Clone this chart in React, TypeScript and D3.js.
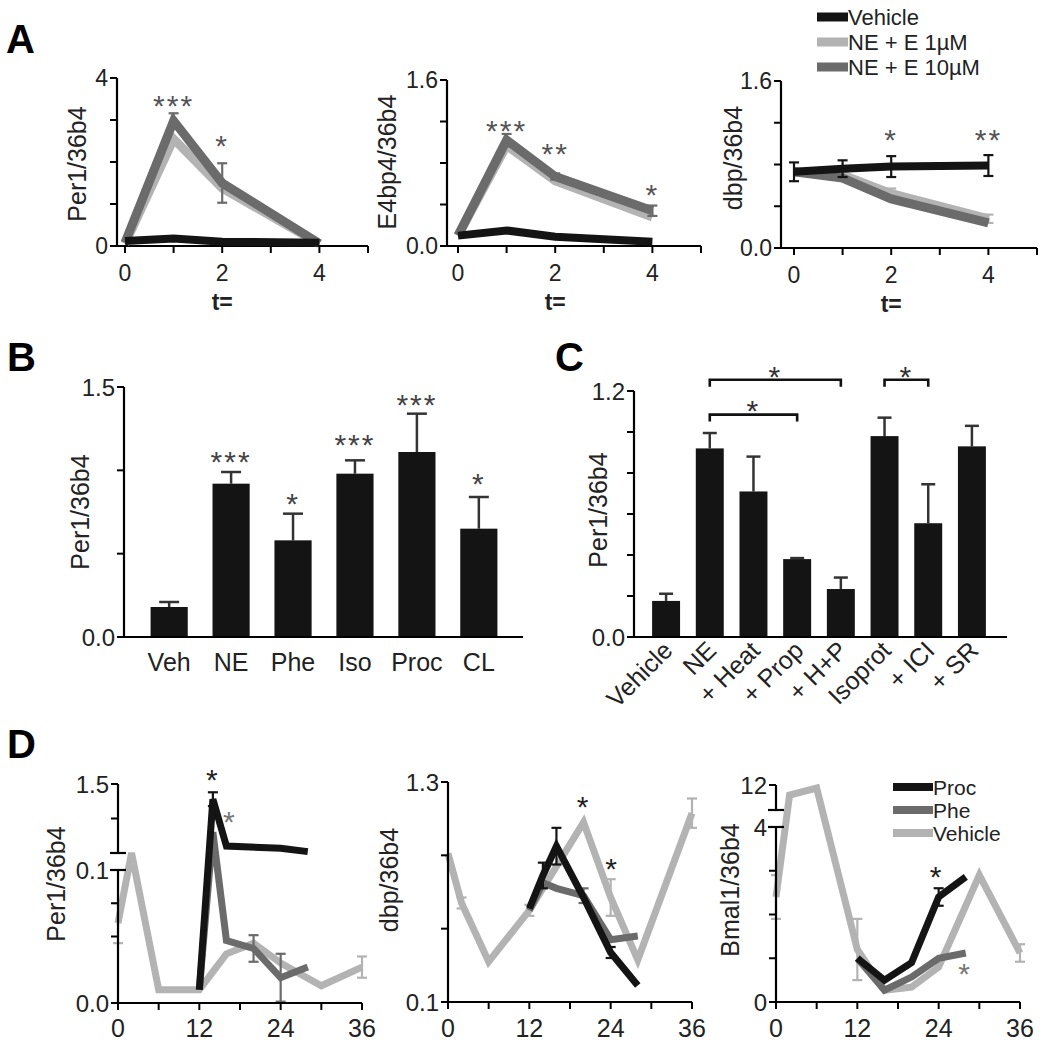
import React from 'react';
import * as d3 from 'd3';

const FONT = '"Liberation Sans", Arial, Helvetica, sans-serif';
const C_BLACK = '#141414';
const C_DARK = '#6b6b6b';
const C_LIGHT = '#b3b3b3';

// ---------------- Panel A ----------------
const aTimes = [0, 1, 2, 4];
const aTimeTicks = [0, 1, 2, 3, 4, 5];
const aTimeLabels = [0, 2, 4];
const aLegend = ['Vehicle', 'NE + E 1µM', 'NE + E 10µM'];

const per1Vehicle = [0.12, 0.18, 0.1, 0.08];
const per1E1 = [0.05, 2.55, 1.38, 0.05];
const per1E10 = [0.08, 2.98, 1.5, 0.06];
const per1E10Err = [0, 0.18, 0.47, 0];
const per1Ticks = [0, 1, 2, 3, 4];
const per1Labels = [0, 4];
const per1Stars = ['', '***', '*', ''];
const per1StarY = [0, 3.5, 2.55, 0];

const e4Vehicle = [0.1, 0.15, 0.09, 0.04];
const e4E1 = [0.1, 0.97, 0.63, 0.28];
const e4E10 = [0.1, 1.02, 0.67, 0.34];
const e4E10Err = [0, 0.06, 0.03, 0.05];
const e4Ticks = [0, 0.4, 0.8, 1.2, 1.6];
const e4Labels = [0, 1.6];
const e4Stars = ['', '***', '**', '*'];
const e4StarY = [0, 1.17, 0.95, 0.56];

const dbpAVehicle = [0.73, 0.76, 0.78, 0.79];
const dbpAVehicleErr = [0.09, 0.08, 0.1, 0.1];
const dbpAE1 = [0.73, 0.7, 0.52, 0.28];
const dbpAE1Err = [0, 0, 0.05, 0.04];
const dbpAE10 = [0.73, 0.67, 0.47, 0.24];
const dbpATicks = [0, 0.4, 0.8, 1.2, 1.6];
const dbpALabels = [0, 1.6];
const dbpAStars = ['', '', '*', '**'];
const dbpAStarY = [0, 0, 1.1, 1.1];

// ---------------- Panel B ----------------
const bCategories = ['Veh', 'NE', 'Phe', 'Iso', 'Proc', 'CL'];
const bValues = [0.18, 0.92, 0.58, 0.98, 1.11, 0.65];
const bErrors = [0.03, 0.07, 0.16, 0.08, 0.23, 0.19];
const bStars = ['', '***', '*', '***', '***', '*'];
const bStarY = [0, 1.09, 0.84, 1.19, 1.43, 0.96];
const bTicks = [0, 0.5, 1.0, 1.5];
const bLabels = [0, 1.5];

// ---------------- Panel C ----------------
const cCategories = ['Vehicle', 'NE', '+ Heat', '+ Prop', '+ H+P', 'Isoprot', '+ ICI', '+ SR'];
const cValues = [0.176, 0.92, 0.71, 0.38, 0.234, 0.98, 0.555, 0.93];
const cErrors = [0.035, 0.075, 0.17, 0.005, 0.056, 0.09, 0.19, 0.1];
const cTicks = [0, 0.2, 0.4, 0.6, 0.8, 1.0, 1.2];
const cLabels = [0, 1.2];
const cBracketFrom = ['NE', 'NE', 'Isoprot'];
const cBracketTo = ['+ H+P', '+ Prop', '+ ICI'];
const cBracketLevel = [1.255, 1.085, 1.255];
const cBracketStar = ['*', '*', '*'];

// ---------------- Panel D ----------------
const dHourTicks = [0, 6, 12, 18, 24, 30, 36];
const dHourLabels = [0, 12, 24, 36];
const dLegend = ['Proc', 'Phe', 'Vehicle'];

const dPer1VehHours = [0, 2, 6, 12, 16, 20, 24, 30, 36];
const dPer1Veh = [0.06, 0.5, 0.01, 0.01, 0.037, 0.045, 0.03, 0.013, 0.027];
const dPer1VehErr = [0.015, 0, 0, 0, 0, 0, 0, 0, 0.008];
const dPer1PheHours = [12, 14, 16, 20, 24, 28];
const dPer1Phe = [0.01, 0.8, 0.047, 0.041, 0.019, 0.027];
const dPer1PheErr = [0, 0, 0, 0.01, 0.018, 0];
const dPer1ProcHours = [12, 14, 16, 24, 28];
const dPer1Proc = [0.01, 1.28, 0.6, 0.57, 0.52];
const dPer1ProcErr = [0, 0.1, 0, 0, 0];
const dPer1Ticks = [0, 0.05, 0.075, 0.1, 1.0, 1.5];
const dPer1Breaks = [0.1, 0.5];
const dPer1Labels = [0, 0.1, 1.5];
const dPer1StarHours = [14, 16.5];
const dPer1StarY = [1.66, 1.05];

const dDbpVehHours = [0, 2, 6, 12, 16, 20, 24, 28, 36];
const dDbpVeh = [0.91, 0.64, 0.32, 0.6, 0.84, 1.08, 0.67, 0.33, 1.13];
const dDbpVehErr = [0, 0.03, 0, 0.03, 0, 0, 0.1, 0, 0.08];
const dDbpPheHours = [12, 14, 16, 20, 24, 28];
const dDbpPhe = [0.6, 0.75, 0.72, 0.68, 0.44, 0.46];
const dDbpPheErr = [0, 0, 0, 0.04, 0, 0];
const dDbpProcHours = [12, 14, 16, 20, 24, 28];
const dDbpProc = [0.61, 0.79, 0.95, 0.67, 0.37, 0.19];
const dDbpProcErr = [0, 0.07, 0.1, 0, 0.03, 0];
const dDbpTicks = [0.1, 0.5, 0.9, 1.3];
const dDbpLabels = [0.1, 1.3];
const dDbpStarHours = [20, 24.2];
const dDbpStarY = [1.2, 0.86];

const dBmalVehHours = [0, 2, 6, 12, 16, 20, 24, 30, 36];
const dBmalVeh = [2.4, 10.4, 11.5, 1.2, 0.27, 0.34, 0.8, 2.9, 1.12];
const dBmalVehErr = [0.5, 0, 0, 0.7, 0, 0, 0, 0, 0.2];
const dBmalPheHours = [12, 16, 20, 24, 28];
const dBmalPhe = [1.0, 0.27, 0.57, 1.0, 1.12];
const dBmalProcHours = [12, 16, 20, 24, 28];
const dBmalProc = [1.0, 0.5, 0.9, 2.4, 2.86];
const dBmalProcErr = [0, 0, 0, 0.2, 0];
const dBmalTicks = [0, 1, 2, 3, 12];
const dBmalBreaks = [4, 8];
const dBmalLabels = [0, 4, 12];
const dBmalStarHours = [23.7, 27.9];
const dBmalStarY = [3.02, 0.8];

// ---------------- helpers ----------------
type Scale = (v: number) => number;
type LineSeries = { xs: number[]; ys: number[]; errs?: number[]; color: string; width: number };

function Lines({ x, y, series, capW = 10 }: { x: Scale; y: Scale; series: LineSeries[]; capW?: number }) {
  const line = d3.line<[number, number]>().x(d => x(d[0])).y(d => y(d[1]));
  return (
    <g>
      {series.map((s, i) => (
        <g key={i}>
          <path
            d={line(s.xs.map((xv, j) => [xv, s.ys[j]] as [number, number])) || ''}
            fill="none"
            stroke={s.color}
            strokeWidth={s.width}
            strokeLinejoin="miter"
            strokeMiterlimit={3}
          />
          {s.errs
            ? s.ys.map((v, j) => {
                const e = s.errs![j];
                if (!e) return null;
                const cx = x(s.xs[j]);
                return (
                  <g key={j} stroke={s.color} strokeWidth={2.2}>
                    <line x1={cx} x2={cx} y1={y(v - e)} y2={y(v + e)} />
                    <line x1={cx - capW / 2} x2={cx + capW / 2} y1={y(v + e)} y2={y(v + e)} />
                    <line x1={cx - capW / 2} x2={cx + capW / 2} y1={y(v - e)} y2={y(v - e)} />
                  </g>
                );
              })
            : null}
        </g>
      ))}
    </g>
  );
}

function YAxis({
  x0, y, segments, ticks, breaks = [], labels, fmt, fs = 23,
}: {
  x0: number; y: Scale; segments: [number, number][]; ticks: number[]; breaks?: number[];
  labels: number[]; fmt: (v: number) => string; fs?: number;
}) {
  return (
    <g>
      {segments.map(([a, b], i) => (
        <line key={'s' + i} x1={x0} x2={x0} y1={y(a)} y2={y(b)} stroke="#000" strokeWidth={2.2} />
      ))}
      {ticks.map((v, i) => (
        <line key={'t' + i} x1={x0 - 7} x2={x0} y1={y(v)} y2={y(v)} stroke="#000" strokeWidth={2} />
      ))}
      {breaks.map((v, i) => (
        <line key={'b' + i} x1={x0 - 8} x2={x0 + 8} y1={y(v)} y2={y(v)} stroke="#000" strokeWidth={2.2} />
      ))}
      {labels.map((v, i) => (
        <text key={'l' + i} x={x0 - 9} y={y(v)} dy="0.36em" textAnchor="end" fontSize={fs} fill="#222">
          {fmt(v)}
        </text>
      ))}
    </g>
  );
}

function XAxis({
  y0, x, from, to, ticks, labels, fs = 23, labelY,
}: {
  y0: number; x: Scale; from: number; to: number; ticks: number[]; labels: number[]; fs?: number; labelY: number;
}) {
  return (
    <g>
      <line x1={from} x2={to} y1={y0} y2={y0} stroke="#000" strokeWidth={2.2} />
      {ticks.map((v, i) => (
        <line key={'t' + i} x1={x(v)} x2={x(v)} y1={y0} y2={y0 + 7} stroke="#000" strokeWidth={2} />
      ))}
      {labels.map((v, i) => (
        <text key={'l' + i} x={x(v)} y={labelY} dy="0.36em" textAnchor="middle" fontSize={fs} fill="#222">
          {v}
        </text>
      ))}
    </g>
  );
}

function Star({ x, y, text, color, fs = 32 }: { x: number; y: number; text: string; color: string; fs?: number }) {
  if (!text) return null;
  return (
    <text x={x} y={y} dy="0.56em" textAnchor="middle" fontSize={fs} fill={color} letterSpacing={2}>
      {text}
    </text>
  );
}

function YLabel({ x, y, text, fs = 25 }: { x: number; y: number; text: string; fs?: number }) {
  return (
    <text transform={`translate(${x},${y}) rotate(-90)`} dy="0.36em" textAnchor="middle" fontSize={fs} fill="#222">
      {text}
    </text>
  );
}

const f1 = d3.format('.1f');
const f0 = (v: number) => String(v);

// ---------------- Panel A ----------------
function PanelA() {
  const step = 48.6;
  const defs = [
    { axisX: 117, x0: 125, yTop: 78, yBot: 246, max: 4, ticks: per1Ticks, labels: per1Labels, fmt: f0,
      veh: per1Vehicle, vehErr: undefined as number[] | undefined, e1: per1E1, e1Err: undefined as number[] | undefined,
      e10: per1E10, e10Err: per1E10Err as number[] | undefined, stars: per1Stars, starY: per1StarY,
      yLabel: 'Per1/36b4', lx: 77, ly: 164 },
    { axisX: 447, x0: 458, yTop: 80, yBot: 246, max: 1.6, ticks: e4Ticks, labels: e4Labels, fmt: f1,
      veh: e4Vehicle, vehErr: undefined, e1: e4E1, e1Err: undefined, e10: e4E10, e10Err: e4E10Err,
      stars: e4Stars, starY: e4StarY, yLabel: 'E4bp4/36b4', lx: 387, ly: 162 },
    { axisX: 781, x0: 794, yTop: 81, yBot: 248, max: 1.6, ticks: dbpATicks, labels: dbpALabels, fmt: f1,
      veh: dbpAVehicle, vehErr: dbpAVehicleErr, e1: dbpAE1, e1Err: dbpAE1Err, e10: dbpAE10, e10Err: undefined,
      stars: dbpAStars, starY: dbpAStarY, yLabel: 'dbp/36b4', lx: 733, ly: 158 },
  ];
  return (
    <g>
      {defs.map((p, i) => {
        const x = d3.scaleLinear().domain([0, 4]).range([p.x0, p.x0 + 4 * step]);
        const y = d3.scaleLinear().domain([0, p.max]).range([p.yBot, p.yTop]);
        const series: LineSeries[] = [
          { xs: aTimes, ys: p.e1, errs: p.e1Err, color: C_LIGHT, width: 9 },
          { xs: aTimes, ys: p.e10, errs: p.e10Err, color: C_DARK, width: 9 },
          { xs: aTimes, ys: p.veh, errs: p.vehErr, color: C_BLACK, width: 8 },
        ];
        return (
          <g key={i}>
            <YAxis x0={p.axisX} y={y} segments={[[0, p.max]]} ticks={p.ticks} labels={p.labels} fmt={p.fmt} fs={23} />
            <XAxis y0={p.yBot} x={x} from={p.axisX} to={x(5)} ticks={aTimeTicks} labels={aTimeLabels} fs={23} labelY={p.yBot + 27} />
            <Lines x={x} y={y} series={series} capW={10} />
            {p.stars.map((s, j) => (
              <Star key={j} x={x(aTimes[j])} y={y(p.starY[j])} text={s} color="#555" fs={30} />
            ))}
            <text x={x(2)} y={p.yBot + 56} dy="0.36em" textAnchor="middle" fontSize={23} fontWeight="bold" fill="#222">
              t=
            </text>
            <YLabel x={p.lx} y={p.ly} text={p.yLabel} fs={25} />
          </g>
        );
      })}
      {aLegend.map((name, i) => (
        <g key={name}>
          <line x1={817} x2={848} y1={17 + i * 25} y2={17 + i * 25} strokeWidth={9}
            stroke={[C_BLACK, C_LIGHT, C_DARK][i]} />
          <text x={848} y={17 + i * 25} dy="0.36em" fontSize={22} fill="#222">{name}</text>
        </g>
      ))}
      <text x={6} y={53} fontSize={40} fontWeight="bold" fill="#000">A</text>
    </g>
  );
}

// ---------------- Panel B ----------------
function PanelB() {
  const axisX = 124;
  const y = d3.scaleLinear().domain([0, 1.5]).range([637, 387]);
  const x = d3.scaleBand<string>().domain(bCategories).range([132, 516]).paddingInner(0.4).paddingOuter(0.3);
  return (
    <g>
      {bCategories.map((c, i) => {
        const cx = x(c)! + x.bandwidth() / 2;
        const top = y(bValues[i] + bErrors[i]);
        return (
          <g key={c}>
            <line x1={cx} x2={cx} y1={y(bValues[i])} y2={top} stroke="#333" strokeWidth={2.5} />
            <line x1={cx - 10} x2={cx + 10} y1={top} y2={top} stroke="#333" strokeWidth={2.5} />
            <rect x={x(c)} y={y(bValues[i])} width={x.bandwidth()} height={y(0) - y(bValues[i])} fill={C_BLACK} />
            <Star x={cx} y={y(bStarY[i])} text={bStars[i]} color="#444" fs={30} />
            <text x={cx} y={662} dy="0.36em" textAnchor="middle" fontSize={25} fill="#222">{c}</text>
          </g>
        );
      })}
      <YAxis x0={axisX} y={y} segments={[[0, 1.5]]} ticks={bTicks} labels={bLabels} fmt={f1} fs={24} />
      <line x1={axisX} x2={523} y1={y(0)} y2={y(0)} stroke="#000" strokeWidth={2.2} />
      <YLabel x={80} y={512} text="Per1/36b4" fs={25} />
      <text x={7} y={371} fontSize={40} fontWeight="bold" fill="#000">B</text>
    </g>
  );
}

// ---------------- Panel C ----------------
function PanelC() {
  const axisX = 634;
  const y = d3.scaleLinear().domain([0, 1.2]).range([637, 391]);
  const x = d3.scaleBand<string>().domain(cCategories).range([639, 999]).paddingInner(0.36).paddingOuter(0.3);
  const cxOf = (c: string) => x(c)! + x.bandwidth() / 2;
  return (
    <g>
      {cCategories.map((c, i) => {
        const cx = cxOf(c);
        const top = y(cValues[i] + cErrors[i]);
        return (
          <g key={c}>
            <line x1={cx} x2={cx} y1={y(cValues[i])} y2={top} stroke="#333" strokeWidth={2.5} />
            <line x1={cx - 7} x2={cx + 7} y1={top} y2={top} stroke="#333" strokeWidth={2.5} />
            <rect x={x(c)} y={y(cValues[i])} width={x.bandwidth()} height={y(0) - y(cValues[i])} fill={C_BLACK} />
            <text transform={`translate(${cx + 8},${652}) rotate(-45)`} textAnchor="end" fontSize={25} fill="#222">
              {c}
            </text>
          </g>
        );
      })}
      {cBracketFrom.map((f, i) => {
        const x1 = cxOf(f);
        const x2 = cxOf(cBracketTo[i]);
        const by = y(cBracketLevel[i]);
        return (
          <g key={i}>
            <path d={`M${x1},${by + 7}V${by}H${x2}V${by + 7}`} fill="none" stroke="#111" strokeWidth={2.6} />
            <Star x={(x1 + x2) / 2} y={by - 10} text={cBracketStar[i]} color="#333" fs={30} />
          </g>
        );
      })}
      <YAxis x0={axisX} y={y} segments={[[0, 1.2]]} ticks={cTicks} labels={cLabels} fmt={f1} fs={24} />
      <line x1={axisX} x2={1007} y1={y(0)} y2={y(0)} stroke="#000" strokeWidth={2.2} />
      <YLabel x={598} y={510} text="Per1/36b4" fs={25} />
      <text x={555} y={371} fontSize={40} fontWeight="bold" fill="#000">C</text>
    </g>
  );
}

// ---------------- Panel D ----------------
function PanelD() {
  const panels = [
    {
      axisX: 118, y: d3.scaleLinear().domain([0, 0.1, 0.5, 1.5]).range([1003, 870, 853, 784]),
      segments: [[0, 0.1], [0.5, 1.5]] as [number, number][], ticks: dPer1Ticks, breaks: dPer1Breaks,
      labels: dPer1Labels, fmt: f1, y0val: 0,
      series: [
        { xs: dPer1VehHours, ys: dPer1Veh, errs: dPer1VehErr, color: C_LIGHT, width: 7 },
        { xs: dPer1PheHours, ys: dPer1Phe, errs: dPer1PheErr, color: C_DARK, width: 7 },
        { xs: dPer1ProcHours, ys: dPer1Proc, errs: dPer1ProcErr, color: C_BLACK, width: 7 },
      ],
      starH: dPer1StarHours, starY: dPer1StarY, yLabel: 'Per1/36b4', lx: 56, ly: 884,
    },
    {
      axisX: 448, y: d3.scaleLinear().domain([0.1, 1.3]).range([1002, 782]),
      segments: [[0.1, 1.3]] as [number, number][], ticks: dDbpTicks, breaks: [] as number[],
      labels: dDbpLabels, fmt: f1, y0val: 0.1,
      series: [
        { xs: dDbpVehHours, ys: dDbpVeh, errs: dDbpVehErr, color: C_LIGHT, width: 7 },
        { xs: dDbpPheHours, ys: dDbpPhe, errs: dDbpPheErr, color: C_DARK, width: 7 },
        { xs: dDbpProcHours, ys: dDbpProc, errs: dDbpProcErr, color: C_BLACK, width: 7 },
      ],
      starH: dDbpStarHours, starY: dDbpStarY, yLabel: 'dbp/36b4', lx: 389, ly: 880,
    },
    {
      axisX: 776, y: d3.scaleLinear().domain([0, 4, 8, 12]).range([1002, 827, 810, 785]),
      segments: [[0, 4], [8, 12]] as [number, number][], ticks: dBmalTicks, breaks: dBmalBreaks,
      labels: dBmalLabels, fmt: f0, y0val: 0,
      series: [
        { xs: dBmalVehHours, ys: dBmalVeh, errs: dBmalVehErr, color: C_LIGHT, width: 7 },
        { xs: dBmalPheHours, ys: dBmalPhe, color: C_DARK, width: 7 },
        { xs: dBmalProcHours, ys: dBmalProc, errs: dBmalProcErr, color: C_BLACK, width: 7 },
      ],
      starH: dBmalStarHours, starY: dBmalStarY, yLabel: 'Bmal1/36b4', lx: 730, ly: 890,
    },
  ];
  return (
    <g>
      {panels.map((p, i) => {
        const x = d3.scaleLinear().domain([0, 36]).range([p.axisX, p.axisX + 244]);
        const y0 = p.y(p.y0val);
        return (
          <g key={i}>
            <Lines x={x} y={p.y} series={p.series} capW={10} />
            <YAxis x0={p.axisX} y={p.y} segments={p.segments} ticks={p.ticks} breaks={p.breaks}
              labels={p.labels} fmt={p.fmt} fs={24} />
            <XAxis y0={y0} x={x} from={p.axisX} to={x(36)} ticks={dHourTicks} labels={dHourLabels} fs={25} labelY={1028} />
            {p.starH.map((h, j) => (
              <Star key={j} x={x(h)} y={p.y(p.starY[j])} text="*" color={j === 0 || i === 1 ? '#222' : '#777'} fs={30} />
            ))}
            <YLabel x={p.lx} y={p.ly} text={p.yLabel} fs={25} />
          </g>
        );
      })}
      {dLegend.map((name, i) => (
        <g key={name}>
          <line x1={893} x2={933} y1={787 + i * 23} y2={787 + i * 23} strokeWidth={8}
            stroke={[C_BLACK, C_DARK, C_LIGHT][i]} />
          <text x={933} y={787 + i * 23} dy="0.36em" fontSize={21} fill="#222">{name}</text>
        </g>
      ))}
      <text x={7} y={758} fontSize={40} fontWeight="bold" fill="#000">D</text>
    </g>
  );
}

export default function App() {
  return (
    <svg width={1047} height={1050} style={{ position: 'absolute', left: 0, top: 0, background: '#fff' }}
      fontFamily={FONT}>
      <rect width={1047} height={1050} fill="#fff" />
      <PanelA />
      <PanelB />
      <PanelC />
      <PanelD />
    </svg>
  );
}
